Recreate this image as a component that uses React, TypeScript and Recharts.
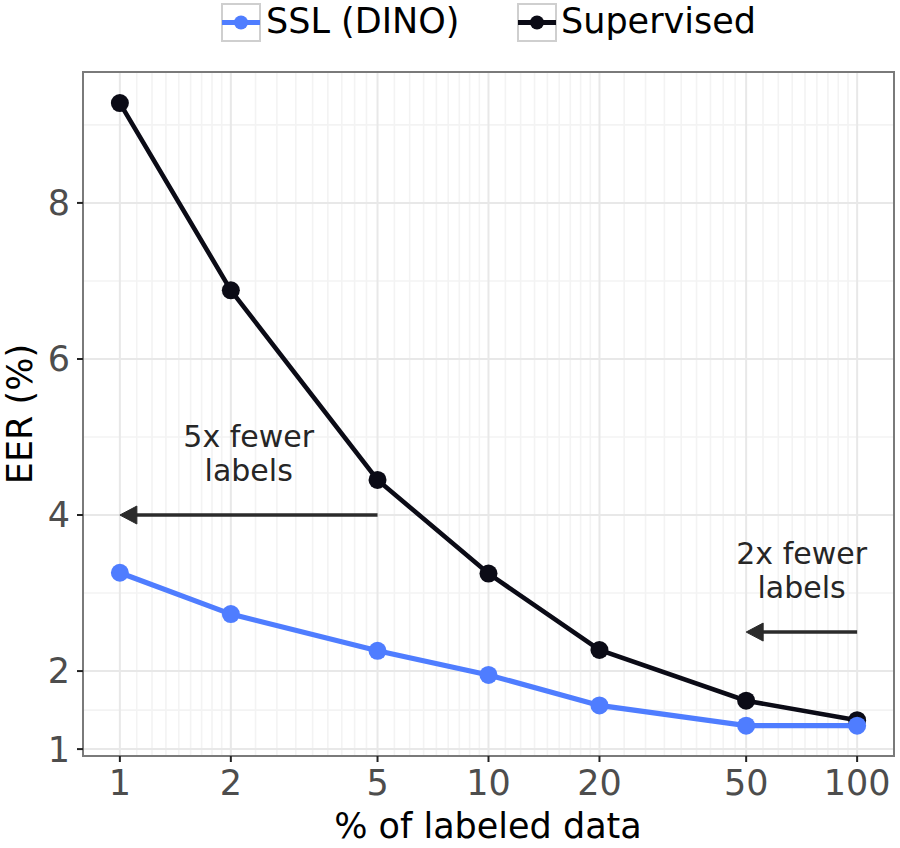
import React from "react";
import {
  LineChart,
  Line,
  XAxis,
  YAxis,
  CartesianGrid,
  ReferenceLine,
  ReferenceDot,
  ReferenceArea,
} from "recharts";

// % of labeled data (log x axis)
const labeledPct = [1, 2, 5, 10, 20, 50, 100];
const sslEer = [3.26, 2.73, 2.26, 1.95, 1.56, 1.3, 1.3];
const supervisedEer = [9.28, 6.88, 4.45, 3.25, 2.27, 1.62, 1.37];

const xTicks = [1, 2, 5, 10, 20, 50, 100];
const yTicks = [1, 2, 4, 6, 8];
const yMinorTicks = [1.5, 3, 5, 7, 9];

// annotations: text centre (x, y) and arrows (from -> to, at y)
const noteText = [
  ["5x fewer", "labels"],
  ["2x fewer", "labels"],
];
const noteX = [2.236, 70.7];
const noteY = [4.8, 3.3];
const arrowFrom = [5, 100];
const arrowTo = [1, 50];
const arrowY = [4, 2.5];

const X_DOMAIN = [0.7943, 125.9];
const Y_DOMAIN = [0.9115, 9.678];

const BLUE = "#4f7dff";
const BLACK = "#0b0b16";
const FONT = "'DejaVu Sans', sans-serif";

// ggplot style minor breaks: 8 lines between each pair of major breaks
const xMinorTicks = xTicks.slice(1).flatMap((b, i) => {
  const a = xTicks[i];
  return [1, 2, 3, 4, 5, 6, 7, 8].map((k) => a + (k * (b - a)) / 9);
});

const data = labeledPct.map((pct, i) => ({
  pct,
  ssl: sslEer[i],
  sup: supervisedEer[i],
}));

const Arrow = (props: any) => {
  const { x1, y1, x2, y2 } = props;
  const dx = x2 - x1;
  const dy = y2 - y1;
  const len = Math.sqrt(dx * dx + dy * dy) || 1;
  const ux = dx / len;
  const uy = dy / len;
  const headLen = 17;
  const headHalf = 9;
  const bx = x2 - ux * headLen;
  const by = y2 - uy * headLen;
  const pts = [
    `${x2},${y2}`,
    `${bx - uy * headHalf},${by + ux * headHalf}`,
    `${bx + uy * headHalf},${by - ux * headHalf}`,
  ].join(" ");
  return (
    <g>
      <line x1={x1} y1={y1} x2={bx + ux * 2} y2={by + uy * 2} stroke="#2b2b2b" strokeWidth={3.5} />
      <polygon points={pts} fill="#2b2b2b" stroke="#2b2b2b" strokeWidth={1} strokeLinejoin="miter" />
    </g>
  );
};

const noteShape = (lines: string[]) => (props: any) => {
  const { cx, cy } = props;
  return (
    <text
      x={cx}
      textAnchor="middle"
      fontFamily={FONT}
      fontSize={30}
      fill="#262626"
    >
      <tspan x={cx} y={cy - 6}>
        {lines[0]}
      </tspan>
      <tspan x={cx} y={cy + 28}>
        {lines[1]}
      </tspan>
    </text>
  );
};

const LegendKey = ({ x, color }: { x: number; color: string }) => (
  <g>
    <rect x={x} y={4} width={38} height={37} fill="#ffffff" stroke="#cfcfcf" strokeWidth={2} />
    <line x1={x} y1={22.5} x2={x + 38} y2={22.5} stroke={color} strokeWidth={4.8} />
    <circle cx={x + 19} cy={22.5} r={7} fill={color} />
  </g>
);

export default function App() {
  return (
    <div
      style={{
        position: "absolute",
        left: 0,
        top: 0,
        width: 900,
        height: 848,
        background: "#ffffff",
      }}
    >
      <LineChart
        width={900}
        height={848}
        data={data}
        margin={{ top: 72, right: 6, bottom: 42, left: 13 }}
      >
        <CartesianGrid
          stroke="#f3f3f3"
          strokeWidth={1.6}
          verticalValues={xMinorTicks}
          horizontalValues={yMinorTicks}
        />
        <CartesianGrid stroke="#e8e8e8" strokeWidth={2} verticalValues={xTicks} horizontalValues={yTicks} />
        <XAxis
          dataKey="pct"
          type="number"
          scale="log"
          domain={X_DOMAIN}
          allowDataOverflow
          ticks={xTicks}
          interval={0}
          height={50}
          axisLine={false}
          tickLine={{ stroke: "#222222", strokeWidth: 2 }}
          tickSize={6}
          tickMargin={8}
          tick={{ fill: "#4d4d4d", fontSize: 35, fontFamily: FONT }}
        />
        <YAxis
          type="number"
          domain={Y_DOMAIN}
          allowDataOverflow
          ticks={yTicks}
          interval={0}
          width={70}
          axisLine={false}
          tickLine={{ stroke: "#222222", strokeWidth: 2 }}
          tickSize={6}
          tickMargin={7}
          tick={{ fill: "#4d4d4d", fontSize: 35, fontFamily: FONT }}
        />
        <ReferenceArea
          x1={X_DOMAIN[0]}
          x2={X_DOMAIN[1]}
          y1={Y_DOMAIN[0]}
          y2={Y_DOMAIN[1]}
          fill="none"
          stroke="#7a7a7a"
          strokeWidth={2}
          ifOverflow="visible"
        />
        {arrowFrom.map((from, i) => (
          <ReferenceLine
            key={`arrow-${i}`}
            segment={[
              { x: from, y: arrowY[i] },
              { x: arrowTo[i], y: arrowY[i] },
            ]}
            shape={Arrow}
            ifOverflow="visible"
          />
        ))}
        {noteX.map((nx, i) => (
          <ReferenceDot
            key={`note-${i}`}
            x={nx}
            y={noteY[i]}
            r={0}
            ifOverflow="visible"
            shape={noteShape(noteText[i])}
          />
        ))}
        <Line
          dataKey="sup"
          type="linear"
          stroke={BLACK}
          strokeWidth={4.6}
          dot={{ r: 9, fill: BLACK, stroke: BLACK, strokeWidth: 0 }}
          activeDot={false}
          isAnimationActive={false}
        />
        <Line
          dataKey="ssl"
          type="linear"
          stroke={BLUE}
          strokeWidth={5.2}
          dot={{ r: 9, fill: BLUE, stroke: BLUE, strokeWidth: 0 }}
          activeDot={false}
          isAnimationActive={false}
        />
      </LineChart>

      <svg
        width={900}
        height={848}
        style={{ position: "absolute", left: 0, top: 0, pointerEvents: "none" }}
      >
        <LegendKey x={222} color={BLUE} />
        <text x={266} y={33} fontFamily={FONT} fontSize={35} fill="#000000">
          SSL (DINO)
        </text>
        <LegendKey x={518} color={BLACK} />
        <text x={561} y={33} fontFamily={FONT} fontSize={35} fill="#000000">
          Supervised
        </text>
        <text x={488} y={838} textAnchor="middle" fontFamily={FONT} fontSize={35} fill="#000000">
          % of labeled data
        </text>
        <text
          x={32}
          y={414}
          textAnchor="middle"
          transform="rotate(-90 32 414)"
          fontFamily={FONT}
          fontSize={35}
          fill="#000000"
        >
          EER (%)
        </text>
      </svg>
    </div>
  );
}
